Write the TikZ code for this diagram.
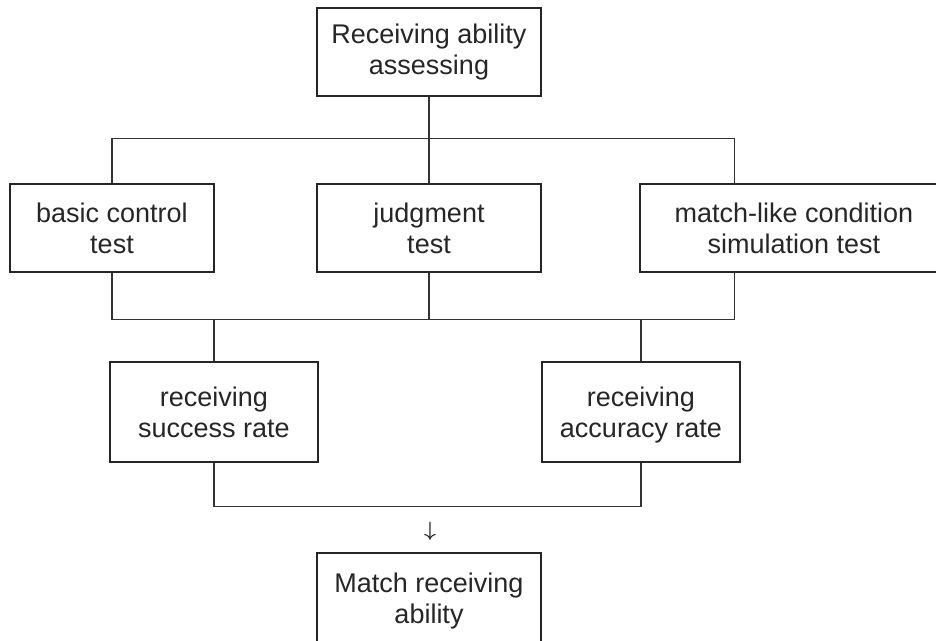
\documentclass[tikz,border=0pt]{standalone}
\usepackage{amsmath, amssymb}
\usepackage{fontspec}
\setmainfont{Liberation Sans}
\usepackage{tikz}
\usetikzlibrary{positioning}
\tikzset{
  stepbox/.style={draw=black!85, line width=2.6pt, fill=white, minimum width=224pt, minimum height=88pt, align=center, inner sep=2pt},
  ratebox/.style={draw=black!85, line width=2.6pt, fill=white, minimum height=100pt, align=center, inner sep=2pt, text depth=0pt},
  link/.style={draw=black!80, line width=1.5pt}
}

\begin{document}
\begin{tikzpicture}[x=1pt, y=-1pt, every node/.style={font=\fontsize{27}{31}\selectfont, text=black!85}]
      \useasboundingbox (0,0) rectangle (936,640);
      % top
      \node[stepbox] (assess) at (429,52) {Receiving ability\\assessing};
      % tests
      \node[stepbox, minimum width=204pt] (basic) at (112,228) {basic control\\test};
      \node[stepbox] (judge) at (429,228) {judgment\\test};
      \node[stepbox, minimum width=308pt] (sim) at (794,228) {match-like condition\\simulation test};
      % rates
      \node[ratebox, minimum width=208pt] (success) at (214,412) {receiving\\success rate};
      \node[ratebox, minimum width=198pt] (accuracy) at (641,412) {receiving\\accuracy rate};
      % result
      \node[font=\fontsize{22}{22}\selectfont] (down) at (430,531) {$\boldsymbol{\downarrow}$};
      \node[ratebox, minimum width=224pt, minimum height=96pt, text depth=] (final) at (429,601) {Match receiving\\ability};
      % connectors
      \coordinate (simin) at ([xshift=96pt]sim.north west);
      \coordinate (simout) at ([xshift=96pt]sim.south west);
      \draw[link] (assess.south) -- (judge.north);
      \draw[link] (basic.north) -- ++(0,-44) -| (simin);
      \draw[link] (basic.south) -- ++(0,46) coordinate (split) -| (simout);
      \draw[link] (judge.south) -- (judge.south |- split);
      \draw[link] (success.north) -- (success.north |- split);
      \draw[link] (accuracy.north) -- (accuracy.north |- split);
      \draw[link] (success.south) -- ++(0,43) -| (accuracy.south);
    \end{tikzpicture}
\end{document}
